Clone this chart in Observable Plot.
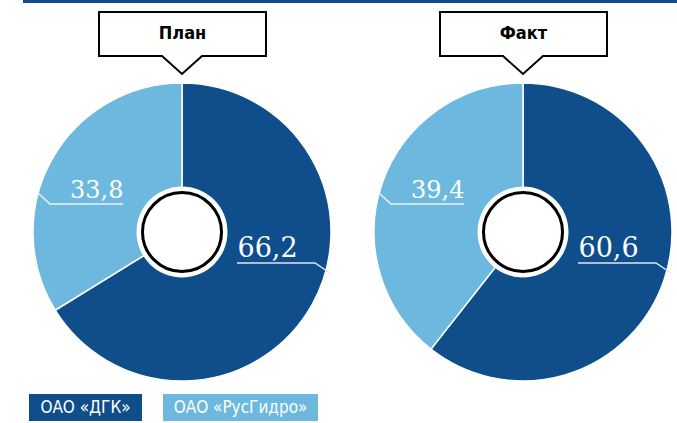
<!DOCTYPE html>
<html>
<head>
<meta charset="utf-8">
<script src="https://cdn.jsdelivr.net/npm/d3@7"></script>
<script src="https://cdn.jsdelivr.net/npm/@observablehq/plot@0.6"></script>
<style>
  html, body { margin: 0; padding: 0; background: #fff; }
  #chart { width: 677px; }
  .legend { position: relative; height: 33px; font-family: "Liberation Sans Narrow", "DejaVu Sans Condensed", "DejaVu Sans", sans-serif; font-stretch: condensed; }
  .legend span { position: absolute; top: 4px; height: 27px; line-height: 27px; color: #fff; font-size: 17px; text-align: center; }
</style>
</head>
<body>
<div id="chart"></div>
<script>
// Data
const periods = ["План", "Факт"];
const categories = ["ОАО «ДГК»", "ОАО «РусГидро»"];
const dgk = [66.2, 60.6];
const rusgidro = [33.8, 39.4];
const valueLabels = { dgk: ["66,2", "60,6"], rusgidro: ["33,8", "39,4"] };
const colors = ["#0f4e8b", "#6cb8de"];

const dark = colors[0], light = colors[1];

const labelsDark = periods.map((p, i) => ({ period: p, label: valueLabels.dgk[i] }));
const labelsLight = periods.map((p, i) => ({ period: p, label: valueLabels.rusgidro[i] }));
const titles = periods.map(p => ({ period: p }));

function pies(index, scales, values, dimensions) {
  const g = d3.create("svg:g");
  const cy = scales.y(0);
  const R = (scales.y(-1) - scales.y(1)) / 2;
  // top rule
  g.append("rect").attr("x", 23).attr("y", 0).attr("width", dimensions.width - 23).attr("height", 3).attr("fill", dark);
  const pie = d3.pie().sort(null).value(d => d);
  const arc = d3.arc().innerRadius(0).outerRadius(R);
  periods.forEach((p, i) => {
    const cx = scales.x(p);
    const gp = g.append("g").attr("transform", `translate(${cx},${cy})`);
    gp.selectAll("path.slice")
      .data(pie([dgk[i], rusgidro[i]]))
      .join("path")
      .attr("d", arc)
      .attr("fill", (d, j) => colors[j])
      .attr("stroke", "#fff")
      .attr("stroke-width", 1.5);
    // leader lines
    const line = d3.line();
    gp.append("path").attr("d", line([[-144, -39], [-132, -28], [-59, -28]]))
      .attr("fill", "none").attr("stroke", "#eef2fa").attr("stroke-width", 1.5);
    gp.append("path").attr("d", line([[55, 31], [133, 31], [148, 41]]))
      .attr("fill", "none").attr("stroke", "#dfe6f2").attr("stroke-width", 1.5);
    // center hole
    gp.append("circle").attr("r", 45.5).attr("fill", "#fff");
    gp.append("circle").attr("r", 39.5).attr("fill", "#fff").attr("stroke", "#000").attr("stroke-width", 3);
    // callout
    gp.append("path")
      .attr("d", "M-83,-220H84V-176H20L0,-158L-20,-176H-83Z")
      .attr("fill", "#fff").attr("stroke", "#000").attr("stroke-width", 2).attr("stroke-linejoin", "miter");
  });
  return g.node();
}

const chart = Plot.plot({
  width: 677,
  height: 390,
  margin: 0,
  x: { type: "point", domain: periods, range: [182, 523], padding: 0, axis: null },
  y: { domain: [-1, 1], range: [381, 83], axis: null },
  marks: [
    pies,
    Plot.text(labelsLight, { x: "period", y: () => 0, text: "label", textAnchor: "end", dx: -59, dy: -42, fill: "#fff", fontSize: 24, fontFamily: "DejaVu Serif, serif" }),
    Plot.text(labelsDark, { x: "period", y: () => 0, text: "label", textAnchor: "start", dx: 55, dy: 16, fill: "#fff", fontSize: 27, fontFamily: "DejaVu Serif, serif" }),
    Plot.text(titles, { x: "period", y: () => 0, text: "period", dy: -199, fill: "#000", fontSize: 18, fontWeight: "bold", fontFamily: "Liberation Sans Narrow, DejaVu Sans Condensed, sans-serif" })
  ]
});
document.getElementById("chart").appendChild(chart);

const legend = document.createElement("div");
legend.className = "legend";
const boxes = [[29, 113], [163, 155]];
categories.forEach((c, i) => {
  const s = document.createElement("span");
  s.textContent = c;
  s.style.left = boxes[i][0] + "px";
  s.style.width = boxes[i][1] + "px";
  s.style.background = colors[i];
  legend.appendChild(s);
});
document.getElementById("chart").appendChild(legend);
</script>
</body>
</html>
